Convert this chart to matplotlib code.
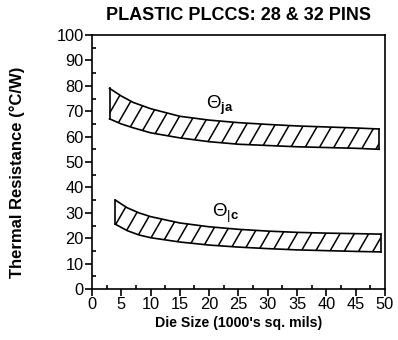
import matplotlib
matplotlib.use("Agg")
import matplotlib.pyplot as plt
import numpy as np
from matplotlib.ticker import MultipleLocator

plt.rcParams['font.family'] = ['Liberation Sans', 'DejaVu Sans']
plt.rcParams['mathtext.fontset'] = 'custom'
plt.rcParams['mathtext.rm'] = 'Liberation Sans'
plt.rcParams['mathtext.bf'] = 'Liberation Sans:bold'

# Data
ja_x = [3, 5, 7, 10, 15, 20, 25, 30, 35, 40, 45, 49]
ja_upper = [79, 76, 73.5, 71, 68, 66.5, 65.5, 64.8, 64.2, 63.8, 63.4, 63]
ja_lower = [67, 65, 63.5, 61.5, 59.5, 58, 57, 56.5, 56, 55.7, 55.4, 55]

jc_x = [4, 6, 8, 10, 15, 20, 25, 30, 35, 40, 45, 49.3]
jc_upper = [35, 32, 30, 28.5, 26, 24.5, 23.5, 22.8, 22.3, 22, 21.8, 21.6]
jc_lower = [25.5, 23, 21.3, 20.2, 18.5, 17.3, 16.5, 15.9, 15.4, 15.1, 14.8, 14.6]

x_ticks = [0, 5, 10, 15, 20, 25, 30, 35, 40, 45, 50]
y_ticks = [0, 10, 20, 30, 40, 50, 60, 70, 80, 90, 100]

dpi = 100
fig = plt.figure(figsize=(398 / dpi, 340 / dpi), dpi=dpi)
ax = fig.add_axes([0.231, 0.15, 0.736, 0.747])
ax.set_xlim(0, 50)
ax.set_ylim(0, 100)

# hatch geometry (steep diagonal strokes), in data units
hatch_slope = 4.0   # dy/dx in data units (~60 deg on screen)
hatch_step = 2.45   # horizontal spacing in data units

for xs, up, lo in [(ja_x, ja_upper, ja_lower), (jc_x, jc_upper, jc_lower)]:
    poly = ax.fill_between(xs, lo, up, facecolor='white', edgecolor='none')
    clip = poly.get_paths()[0]
    y0, y1 = min(lo), max(up)
    starts = np.arange(xs[0] - (y1 - y0) / hatch_slope, xs[-1] + hatch_step, hatch_step)
    for s in starts:
        ln, = ax.plot([s, s + (y1 - y0) / hatch_slope], [y0, y1], color='black', lw=1.1)
        ln.set_clip_path(clip, ax.transData)
    ax.plot(xs, up, color='black', lw=1.2)
    ax.plot(xs, lo, color='black', lw=1.2)
    ax.plot([xs[0], xs[0]], [lo[0], up[0]], color='black', lw=1.2)
    ax.plot([xs[-1], xs[-1]], [lo[-1], up[-1]], color='black', lw=1.2)

ax.text(21.8, 72.3, r'$\Theta_{\mathbf{ja}}$', fontsize=13.5, ha='center', va='center')
ax.text(22.8, 30, r'$\Theta_{|\mathbf{c}}$', fontsize=13.5, ha='center', va='center')

ax.set_xticks(x_ticks)
ax.set_yticks(y_ticks)
ax.xaxis.set_minor_locator(MultipleLocator(2.5))
ax.yaxis.set_minor_locator(MultipleLocator(5))
ax.tick_params(which='major', direction='out', length=5, width=1.2, labelsize=11.8, pad=1)
ax.tick_params(which='minor', direction='in', length=3, width=1.2)
for s in ax.spines.values():
    s.set_linewidth(1.2)

ax.set_title('PLASTIC PLCCS: 28 & 32 PINS', fontsize=13, fontweight='bold', pad=11)
ax.set_xlabel("Die Size (1000's sq. mils)", fontsize=10.2, fontweight='bold', labelpad=3)
ax.set_ylabel('Thermal Resistance (°C/W)', fontsize=12, fontweight='bold')
ax.yaxis.set_label_coords(-0.23, 0.46)

fig.savefig('out.png', dpi=dpi)
